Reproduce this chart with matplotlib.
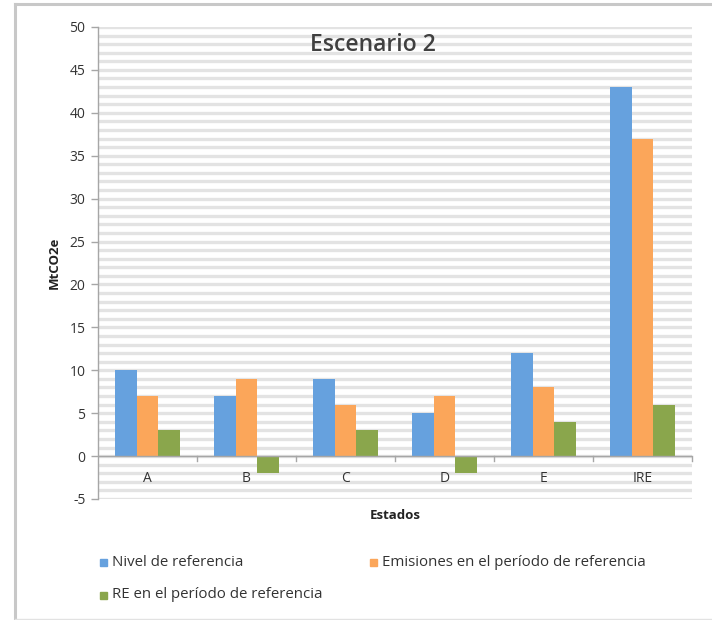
import matplotlib
matplotlib.use("Agg")
import matplotlib.pyplot as plt
import numpy as np
from matplotlib.lines import Line2D

plt.rcParams['font.family'] = ['Open Sans', 'DejaVu Sans']
plt.rcParams['axes.unicode_minus'] = False

estados = ["A", "B", "C", "D", "E", "IRE"]
nivel_referencia = [10, 7, 9, 5, 12, 43]
emisiones_periodo = [7, 9, 6, 7, 8, 37]
re_periodo = [3, -2, 3, -2, 4, 6]

series_names = ["Nivel de referencia",
                "Emisiones en el período de referencia",
                "RE en el período de referencia"]
colors = ["#66A1DE", "#FBA65A", "#8AA64C"]

fig = plt.figure(figsize=(7.12, 6.2), dpi=100)

# outer chart frame (left and top edges, faint bottom)
fig.add_artist(Line2D([15/712, 15/712], [0, 1 - 4/620], transform=fig.transFigure,
                      color="#c8c8c8", lw=2.2))
fig.add_artist(Line2D([15/712, 1], [1 - 4/620, 1 - 4/620], transform=fig.transFigure,
                      color="#c8c8c8", lw=2.2))
fig.add_artist(Line2D([15/712, 1], [1/620, 1/620], transform=fig.transFigure,
                      color="#e2e2e2", lw=1))

ax = fig.add_axes([98/712, 1 - 499/620, (692 - 98)/712, (499 - 27)/620])

x = np.arange(len(estados))
w = 0.222
for i, (vals, c) in enumerate(zip([nivel_referencia, emisiones_periodo, re_periodo], colors)):
    ax.bar(x + (i - 1) * w, vals, width=w, color=c, zorder=3, linewidth=0)

ax.set_xlim(-0.5, len(estados) - 0.5)
ax.set_ylim(-5, 50)

# dense horizontal gridlines every unit
for yv in range(-5, 51):
    ax.axhline(yv, color="#e3e3e3", lw=2.4, zorder=1)

ax.axhline(0, color="#a6a6a6", lw=1.0, zorder=4)

ax.set_yticks(np.arange(-5, 51, 5))
ax.tick_params(axis='y', length=5, width=1, color="#a6a6a6", labelsize=10,
               labelcolor="#333333", pad=4)
ax.set_xticks([])
for s in ["top", "right", "bottom"]:
    ax.spines[s].set_visible(False)
ax.spines["left"].set_color("#a6a6a6")
ax.spines["left"].set_linewidth(1.0)

# category labels and boundary ticks on the zero line
for xi, lab in zip(x, estados):
    ax.text(xi, -2.6, lab, ha="center", va="center", fontsize=10, color="#333333", zorder=5)
for b in np.arange(0.5, len(estados), 1.0):
    ax.plot([b, b], [0, -0.55], color="#a6a6a6", lw=1.0, zorder=4, clip_on=False)

ax.set_ylabel("MtCO2e", fontsize=9.5, fontweight="bold", color="#222222", labelpad=6)
ax.text(0.5, -0.035, "Estados", transform=ax.transAxes, ha="center", va="center",
        fontsize=9.5, fontweight="bold", color="#222222")

ax.text(0.463, 0.962, "Escenario 2", transform=ax.transAxes, ha="center", va="center",
        fontsize=16.5, fontweight="semibold", color="#404040", zorder=6)

# legend
leg_pos = [(100, 562), (370, 562), (100, 595)]
for (px, py), c, name in zip(leg_pos, colors, series_names):
    fig.add_artist(plt.Rectangle((px/712, 1 - (py + 4)/620), 7/712, 7/620,
                                 transform=fig.transFigure, color=c))
    fig.text((px + 12)/712, 1 - py/620, name, ha="left", va="center",
             fontsize=10.8, color="#333333")

fig.savefig("out.png", dpi=100)
